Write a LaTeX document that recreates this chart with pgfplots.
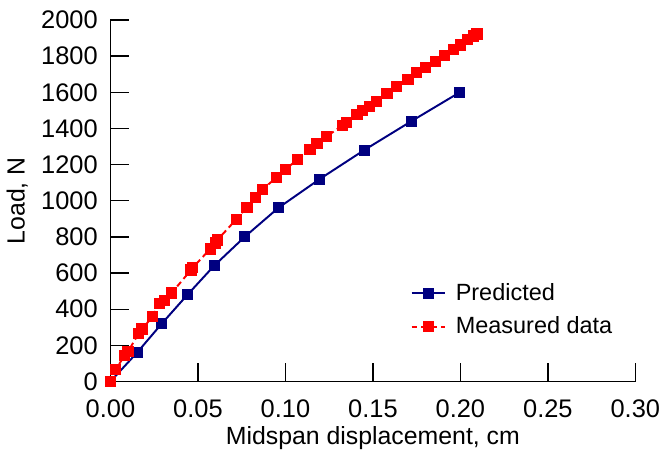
\documentclass[border=0pt]{standalone}
\usepackage{pgfplots}
\pgfplotsset{compat=1.18}
\usepackage{fontspec}
\setmainfont{Liberation Sans}
\definecolor{prednavy}{RGB}{0,0,128}
\definecolor{measred}{RGB}{255,0,0}
\begin{document}
\begin{tikzpicture}[trim right=281pt]
\begin{axis}[
    scale only axis,
    width=268.4pt, height=184.9pt,
    xmin=0, xmax=0.30, ymin=0, ymax=2000,
    xtick={0,0.05,0.10,0.15,0.20,0.25,0.30},
    ytick={0,200,400,600,800,1000,1200,1400,1600,1800,2000},
    axis x line*=bottom, axis y line*=left,
    tick align=inside, major tick length=9.5pt,
    tick style={black, line width=0.7pt},
    axis line style={black, line width=0.7pt},
    xticklabel style={yshift=-6pt, /pgf/number format/.cd, fixed, fixed zerofill, precision=2},
    yticklabel style={xshift=-3pt, /pgf/number format/.cd, 1000 sep={}},
    /pgf/number format/assume math mode=true,
    ticklabel style={font=\fontsize{13}{15}\selectfont},
    label style={font=\fontsize{12.7}{15}\selectfont},
    xlabel style={yshift=2.5pt},
    xlabel={Midspan displacement, cm},
    ylabel={Load, N},
    clip=false,
    legend style={draw=none, fill=none, font=\fontsize{12}{14}\selectfont,
        at={(rel axis cs:0.56,0.295)}, anchor=north west,
        row sep=3pt, cells={anchor=west}, nodes={inner xsep=5pt}},
]
\addplot[color=prednavy, line width=1pt, mark=square*, mark size=2.3pt]
coordinates {(0,0)(0.0152,160)(0.0293,320)(0.0440,480)(0.0592,640)(0.0767,800)
  (0.0959,960)(0.1196,1120)(0.1450,1280)(0.1720,1440)(0.1997,1600)};
\addplot[color=measred, line width=1pt, dash pattern=on 3pt off 2pt,
    mark=square*, mark size=2.4pt, mark options={solid}]
coordinates {(0,0)(0.003,66)(0.008,143)(0.010,165)(0.016,264)(0.018,290)
  (0.024,358)(0.028,430)(0.031,450)(0.035,490)(0.046,617)(0.047,630)
  (0.057,733)(0.060,766)(0.061,782)(0.072,898)(0.078,964)(0.083,1019)
  (0.087,1063)(0.095,1130)(0.100,1173)(0.107,1229)(0.114,1284)(0.118,1317)
  (0.1235,1355)(0.1325,1416)(0.135,1432)(0.141,1477)(0.144,1499)(0.148,1520)
  (0.152,1548)(0.158,1592)(0.1636,1631)(0.170,1669)(0.175,1708)(0.180,1736)
  (0.1856,1769)(0.191,1802)(0.196,1835)(0.200,1862)(0.204,1890)(0.2076,1912)
  (0.2095,1923)};
\legend{Predicted, Measured data}
\end{axis}
\path ([yshift=10.2pt]current axis.north west);
\path ([yshift=-34.6pt]current axis.south west);
\end{tikzpicture}
\end{document}
